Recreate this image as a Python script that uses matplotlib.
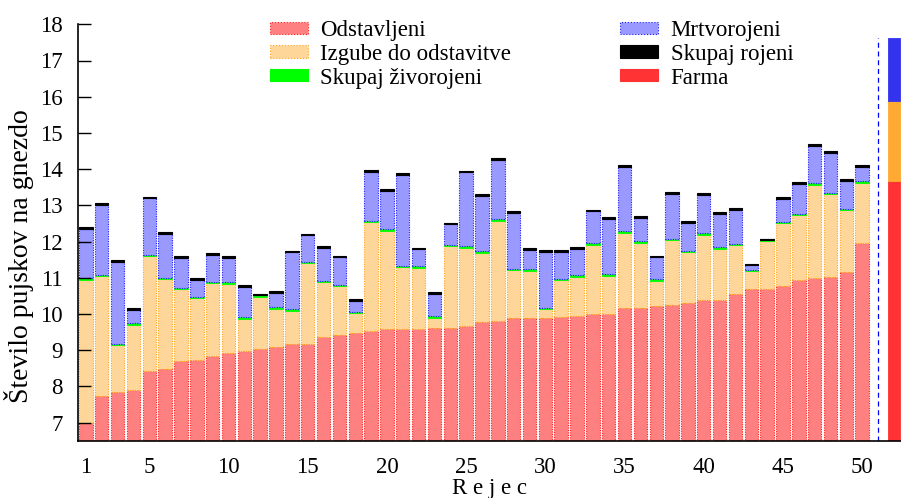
import numpy as np
import matplotlib
matplotlib.use("Agg")
import matplotlib.pyplot as plt
from matplotlib.patches import Patch

plt.rcParams['font.family'] = ['Liberation Serif', 'DejaVu Serif']

rejec = list(range(1, 51))
odstavljeni = [7.00, 7.74, 7.83, 7.91, 8.43, 8.49, 8.69, 8.74, 8.84, 8.93,
               8.97, 9.02, 9.09, 9.16, 9.16, 9.36, 9.43, 9.46, 9.52, 9.58,
               9.58, 9.58, 9.62, 9.61, 9.67, 9.78, 9.81, 9.90, 9.90, 9.90,
               9.91, 9.95, 10.01, 10.01, 10.15, 10.16, 10.23, 10.25, 10.29, 10.39,
               10.39, 10.54, 10.68, 10.70, 10.78, 10.95, 11.00, 11.03, 11.17, 11.97]
zivorojeni = [10.97, 11.06, 9.15, 9.72, 11.61, 10.98, 10.70, 10.45, 10.87, 10.86,
              9.89, 10.50, 10.17, 10.10, 11.42, 10.89, 10.78, 10.04, 12.55, 12.31,
              11.31, 11.29, 9.92, 11.89, 11.84, 11.71, 12.60, 11.23, 11.22, 10.15,
              10.95, 11.04, 11.93, 11.08, 12.26, 11.98, 10.94, 12.06, 11.72, 12.21,
              11.82, 11.92, 11.20, 12.04, 12.52, 12.75, 13.59, 13.33, 12.88, 13.64]
skupaj_rojeni = [12.39, 13.05, 11.48, 10.16, 13.24, 12.26, 11.60, 11.00, 11.68, 11.60,
                 10.79, 10.56, 10.64, 11.75, 12.22, 11.88, 11.61, 10.40, 13.98, 13.44,
                 13.90, 11.83, 10.60, 12.52, 13.96, 13.30, 14.31, 12.85, 11.82, 11.77,
                 11.77, 11.84, 12.88, 12.68, 14.12, 12.70, 11.61, 13.37, 12.57, 13.33,
                 12.81, 12.93, 11.39, 12.08, 13.22, 13.63, 14.70, 14.49, 13.72, 14.10]
# Farm average (bar at position 52)
farma_pos = 52
farma_odstavljeni = 13.67
farma_zivorojeni = 15.88
farma_rojeni = 17.62

xticks = [1, 5, 10, 15, 20, 25, 30, 35, 40, 45, 50]

YMIN = 6.5
GREEN_H = 0.045
BLACK_H = 0.05
W = 0.85
FS = 16.5

fig = plt.figure(figsize=(9.01, 4.98), dpi=100)
ax = fig.add_axes([78 / 901, (498 - 440.6) / 498, 1 - 78 / 901, (440.6 - 24.3) / 498])

x = np.array(rejec, dtype=float)
R = np.array(odstavljeni)
Z = np.array(zivorojeni)
T = np.array(skupaj_rojeni)

dot = (0, (1, 1.2))
ax.bar(x, R - YMIN, bottom=YMIN, width=W, color='#ff8080', edgecolor='#ff2020',
       linestyle=dot, linewidth=0.8)
orange_top = Z - GREEN_H / 2
ax.bar(x, orange_top - R, bottom=R, width=W, color='#ffd699', edgecolor='#ffa520',
       linestyle=dot, linewidth=0.8)
ax.bar(x, np.full_like(Z, GREEN_H), bottom=orange_top, width=W, color='#00ff00',
       edgecolor='#00ff00', linewidth=0.6)
blue_bot = Z + GREEN_H / 2
blue_h = np.maximum(T - BLACK_H - blue_bot, 0)
ax.bar(x, blue_h, bottom=blue_bot, width=W, color='#9999ff', edgecolor='#2020ff',
       linestyle=dot, linewidth=0.8)
ax.bar(x, np.full_like(T, BLACK_H), bottom=T - BLACK_H, width=W, color='black',
       edgecolor='black', linewidth=0.8)

# farm bar
ax.bar([farma_pos], [farma_odstavljeni - YMIN], bottom=YMIN, width=0.8, color='#ff3333',
       edgecolor='#ff3333', linewidth=0.6)
ax.bar([farma_pos], [farma_zivorojeni - farma_odstavljeni], bottom=farma_odstavljeni,
       width=0.8, color='#ffaa33', edgecolor='#ffaa33', linewidth=0.6)
ax.bar([farma_pos], [farma_rojeni - farma_zivorojeni], bottom=farma_zivorojeni,
       width=0.8, color='#3333ee', edgecolor='#3333ee', linewidth=0.6)
ax.vlines(51, YMIN, farma_rojeni, colors='#0000ff', linestyles=(0, (4, 3)), linewidth=0.9)

ax.set_xlim(0.5, 52.45)
ax.set_ylim(YMIN, 18)
ax.set_yticks(range(7, 19))
ax.set_xticks(xticks)
ax.tick_params(axis='y', direction='in', length=9, width=1, labelsize=FS, pad=11)
ax.tick_params(axis='x', length=0, labelsize=FS, pad=12)
for s in ['top', 'right']:
    ax.spines[s].set_visible(False)
ax.spines['left'].set_linewidth(1.2)
ax.spines['bottom'].set_linewidth(1.2)

ax.set_ylabel('Število pujskov na gnezdo', fontsize=20, labelpad=4)
ax.yaxis.set_label_coords(-0.054, 0.443)
ax.set_xlabel('R e j e c', fontsize=FS, labelpad=0)

handles = [
    Patch(facecolor='#ff8080', edgecolor='#ff2020', linestyle=':', linewidth=0.8, label='Odstavljeni'),
    Patch(facecolor='#ffd699', edgecolor='#ffa520', linestyle=':', linewidth=0.8, label='Izgube do odstavitve'),
    Patch(facecolor='#00ff00', edgecolor='#00ff00', linewidth=0.8, label='Skupaj živorojeni'),
    Patch(facecolor='#9999ff', edgecolor='#2020ff', linestyle=':', linewidth=0.8, label='Mrtvorojeni'),
    Patch(facecolor='black', edgecolor='black', linewidth=0.8, label='Skupaj rojeni'),
    Patch(facecolor='#ff3333', edgecolor='#ff3333', linewidth=0.8, label='Farma'),
]
leg = ax.legend(handles=handles, ncol=2, frameon=False, fontsize=FS,
                loc='upper left', bbox_to_anchor=(270 / 901, 1 - 20 / 498),
                bbox_transform=fig.transFigure,
                handlelength=1.65, handleheight=0.45, handletextpad=0.55,
                columnspacing=4.75, labelspacing=0.12, borderaxespad=0, borderpad=0)

fig.savefig('out.png', dpi=100)
